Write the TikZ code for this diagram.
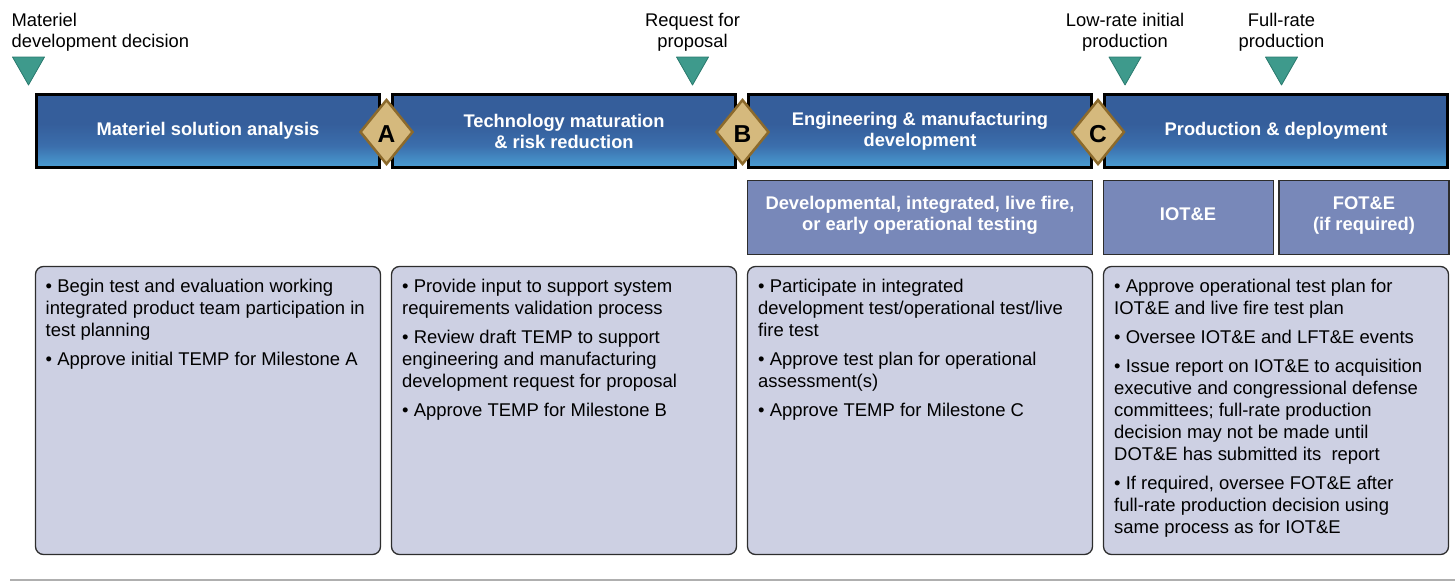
\documentclass[tikz,border=0pt]{standalone}
\usepackage{fontspec}
\setmainfont{Liberation Sans}
\definecolor{bartop}{RGB}{53,94,155}
\definecolor{barmid}{RGB}{59,110,172}
\definecolor{barbot}{RGB}{74,158,211}
\definecolor{testfill}{RGB}{120,136,185}
\definecolor{notefill}{RGB}{205,208,227}
\definecolor{tealfill}{RGB}{62,154,140}
\definecolor{tealedge}{RGB}{42,122,110}
\definecolor{tanfill}{RGB}{213,185,125}
\definecolor{tanedge}{RGB}{140,106,44}
\definecolor{rulegray}{RGB}{175,175,175}
\definecolor{edgegray}{RGB}{45,45,45}
\pgfdeclareverticalshading{barshade}{100bp}{color(0bp)=(barbot); color(25bp)=(barbot); color(40bp)=(barmid); color(55bp)=(bartop); color(100bp)=(bartop)}
\begin{document}
\begin{tikzpicture}[x=1pt,y=-1pt,
  phasebox/.style={draw=black, line width=2.8pt, shading=barshade, minimum width=343pt, minimum height=73pt, inner sep=0pt, text=white, align=center, font=\bfseries\fontsize{18.3}{21}\selectfont},
  testbox/.style={draw=edgegray, line width=1.3pt, fill=testfill, inner sep=0pt},
  testtext/.style={text=white, align=center, inner sep=0pt, font=\bfseries\fontsize{18.35}{21.4}\selectfont},
  notebox/.style={draw=edgegray, line width=1.3pt, fill=notefill, rounded corners=8pt, minimum width=345pt, minimum height=288pt, inner sep=0pt},
  notetext/.style={anchor=north west, inner sep=0pt, align=left, font=\fontsize{18.45}{22}\selectfont},
  mslabel/.style={anchor=north, inner sep=0pt, align=center, font=\fontsize{18.35}{21}\selectfont},
  msmark/.style={fill=tealfill, draw=tealedge, line width=0.8pt, line join=round},
  gate/.style={fill=tanfill, draw=tanedge, line width=2.5pt, line join=miter},
  gateletter/.style={anchor=base, inner sep=0pt, font=\bfseries\fontsize{24.5}{24}\selectfont}
]
\useasboundingbox (0,0) rectangle (1455,581);

% milestone labels and markers
\node[mslabel, anchor=north west, align=left] (mddlab) at (11.5,12.7) {Materiel\\development decision};
\draw[msmark] (12.5,57) -- (44.5,57) -- (28.5,85) -- cycle;
\node[mslabel] (rfplab) at (692.5,12.7) {Request for\\proposal};
\draw[msmark] (676.5,57) -- (708.5,57) -- (692.5,85) -- cycle;
\node[mslabel] (lriplab) at (1125,12.7) {Low-rate initial\\production};
\draw[msmark] (1109,57) -- (1141,57) -- (1125,85) -- cycle;
\node[mslabel] (frplab) at (1281.5,12.7) {Full-rate\\production};
\draw[msmark] (1265.5,57) -- (1297.5,57) -- (1281.5,85) -- cycle;

% phase bars
\node[phasebox] (p1) at (208,131) {Materiel solution analysis};
\node[phasebox] (p2) at (564,131) {Technology maturation\\\& risk reduction};
\node[phasebox] (p3) at (920,131) {Engineering \& manufacturing\\development};
\node[phasebox] (p4) at (1276,131) {Production \& deployment};

% milestone gates
\draw[gate] (386.5,100) -- (412.5,132) -- (386.5,164) -- (360.5,132) -- cycle;
\node[gateletter] (ga) at (386.5,142.5) {A};
\draw[gate] (742.5,100) -- (768.5,132) -- (742.5,164) -- (716.5,132) -- cycle;
\node[gateletter] (gb) at (742.5,142.5) {B};
\draw[gate] (1098,100) -- (1124,132) -- (1098,164) -- (1072,132) -- cycle;
\node[gateletter] (gc) at (1098,142.5) {C};

% test boxes
\node[testbox, minimum width=345pt, minimum height=74pt] (t1) at (920,217.5) {};
\node[testtext] (t1t) at (920,215.4) {Developmental, integrated, live fire,\\or early operational testing};
\node[testbox, minimum width=170pt, minimum height=74pt] (t2) at (1188.5,217.5) {};
\node[testtext, anchor=base] (t2t) at (1188,220) {IOT\&E};
\node[testbox, minimum width=170pt, minimum height=74pt] (t3) at (1364,217.5) {};
\node[testtext] (t3t) at (1364,215.5) {FOT\&E\\(if required)};

% note boxes
\node[notebox] (n1) at (208,410.5) {};
\node[notetext] (n1t) at (45.5,279.2) {• Begin test and evaluation working\\integrated product team participation in\\test planning\\[7pt]• Approve initial TEMP for Milestone A};
\node[notebox] (n2) at (564,410.5) {};
\node[notetext] (n2t) at (402,279.2) {• Provide input to support system\\requirements validation process\\[7pt]• Review draft TEMP to support\\engineering and manufacturing\\development request for proposal\\[7pt]• Approve TEMP for Milestone B};
\node[notebox] (n3) at (920,410.5) {};
\node[notetext] (n3t) at (758,279.2) {• Participate in integrated\\development test/operational test/live\\fire test\\[7pt]• Approve test plan for operational\\assessment(s)\\[7pt]• Approve TEMP for Milestone C};
\node[notebox] (n4) at (1276,410.5) {};
\node[notetext] (n4t) at (1114,279.2) {• Approve operational test plan for\\IOT\&E and live fire test plan\\[7pt]• Oversee IOT\&E and LFT\&E events\\[7pt]• Issue report on IOT\&E to acquisition\\executive and congressional defense\\committees; full-rate production\\decision may not be made until\\DOT\&E has submitted its\ \ report\\[7pt]• If required, oversee FOT\&E after\\full-rate production decision using\\same process as for IOT\&E};

% bottom rule
\coordinate (ruleL) at (10,580);
\coordinate (ruleR) at (1455,580);
\draw[rulegray, line width=1.3pt] (ruleL) -- (ruleR);
\end{tikzpicture}
\end{document}
